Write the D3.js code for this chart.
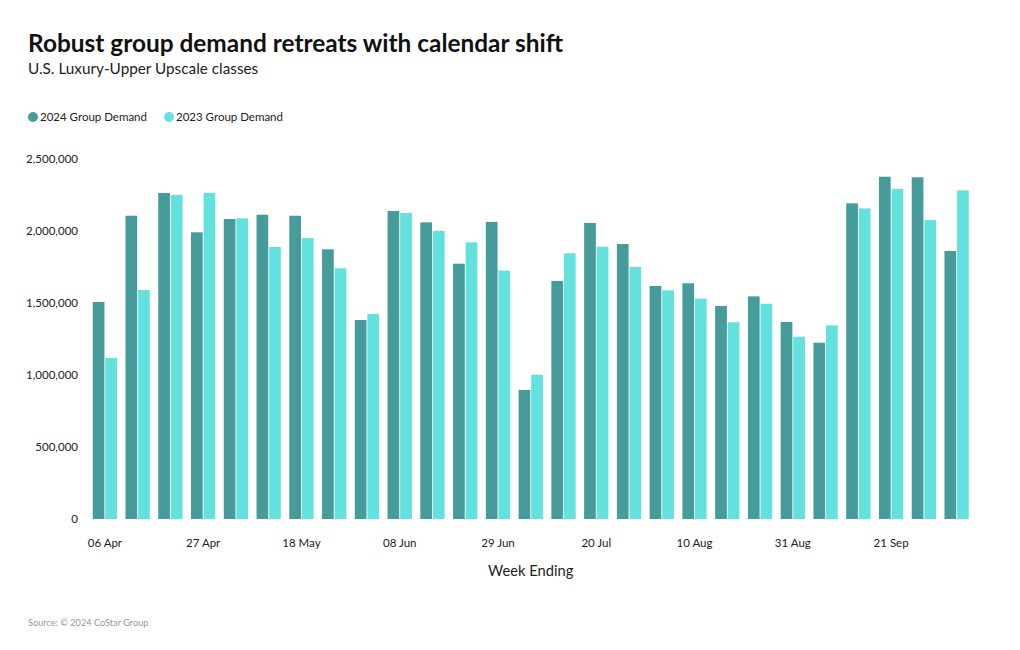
<!DOCTYPE html>
<html><head><meta charset="utf-8">
<script src="https://cdn.jsdelivr.net/npm/d3@7"></script>
<style>
body{margin:0;background:#fff;}
text{font-family:"Source Sans Pro",Lato,"Noto Sans",sans-serif;}
</style></head>
<body><svg id="c" width="1020" height="650"></svg>
<script>
const weeks = ["06 Apr","13 Apr","20 Apr","27 Apr","04 May","11 May","18 May","25 May","01 Jun","08 Jun","15 Jun","22 Jun","29 Jun","06 Jul","13 Jul","20 Jul","27 Jul","03 Aug","10 Aug","17 Aug","24 Aug","31 Aug","07 Sep","14 Sep","21 Sep","28 Sep","05 Oct"];
const demand2024 = [1507000,2106000,2264000,1991000,2083000,2113000,2106000,1873000,1382000,2139000,2060000,1773000,2063000,896000,1653000,2056000,1910000,1618000,1637000,1479000,1546000,1368000,1224000,2192000,2377000,2373000,1861000];
const demand2023 = [1118000,1590000,2250000,2264000,2088000,1889000,1951000,1741000,1424000,2125000,2000000,1921000,1725000,1002000,1845000,1891000,1750000,1588000,1530000,1366000,1495000,1266000,1345000,2157000,2292000,2076000,2282000];
const yTicks = [0,500000,1000000,1500000,2000000,2500000];
const tickWeeks = ["06 Apr","27 Apr","18 May","08 Jun","29 Jun","20 Jul","10 Aug","31 Aug","21 Sep"];
const seriesNames = ["2024 Group Demand","2023 Group Demand"];
const colors = ["#469c9b","#63e1df"];

const svg = d3.select("#c");
const x = d3.scaleBand().domain(weeks).range([88.5, 973]).paddingInner(0.258).paddingOuter(0.129);
const x1 = d3.scaleBand().domain([0,1]).range([0, x.bandwidth()]).paddingInner(0.07);
const y = d3.scaleLinear().domain([0,2500000]).range([519,159]);

svg.append("text").attr("x",28).attr("y",52).attr("font-size",24).attr("font-weight",700).attr("fill","#111")
  .attr("textLength",535).attr("lengthAdjust","spacingAndGlyphs")
  .text("Robust group demand retreats with calendar shift");
svg.append("text").attr("x",28).attr("y",74).attr("font-size",15.3).attr("fill","#222")
  .text("U.S. Luxury-Upper Upscale classes");

// legend
const lg = svg.append("g");
const legX = [33,169];
seriesNames.forEach((n,i)=>{
  lg.append("circle").attr("cx",legX[i]).attr("cy",117).attr("r",5).attr("fill",colors[i]);
  lg.append("text").attr("x",legX[i]+7).attr("y",121).attr("font-size",11.5).attr("fill","#222").text(n);
});

// bars
const g = svg.append("g");
weeks.forEach((w,i)=>{
  [demand2024[i],demand2023[i]].forEach((v,j)=>{
    g.append("rect").attr("x",x(w)+x1(j)).attr("width",x1.bandwidth())
      .attr("y",y(v)).attr("height",y(0)-y(v)).attr("fill",colors[j]);
  });
});

// y axis
const ya = svg.append("g").attr("transform","translate(78,0)")
  .call(d3.axisLeft(y).tickValues(yTicks).tickSize(0).tickPadding(0).tickFormat(d3.format(",")));
ya.select(".domain").remove();
ya.selectAll("text").attr("font-size",11.5).attr("fill","#222").style("font-family",'"Source Sans Pro",Lato,"Noto Sans",sans-serif');

// x axis
const xa = svg.append("g").attr("transform","translate(0,519)")
  .call(d3.axisBottom(x).tickValues(tickWeeks).tickSize(0).tickPadding(20));
xa.select(".domain").remove();
xa.selectAll("text").attr("font-size",11.5).attr("fill","#222").style("font-family",'"Source Sans Pro",Lato,"Noto Sans",sans-serif');

svg.append("text").attr("x",530.7).attr("y",576).attr("text-anchor","middle").attr("font-size",14.7).attr("fill","#222").text("Week Ending");
svg.append("text").attr("x",28).attr("y",626).attr("font-size",9.2).attr("fill","#999").text("Source: © 2024 CoStar Group");
</script></body></html>
